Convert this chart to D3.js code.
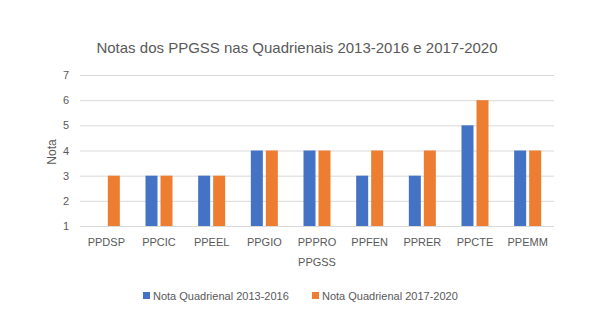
<!DOCTYPE html>
<html><head><meta charset="utf-8">
<script src="https://cdn.jsdelivr.net/npm/d3@7"></script>
<style>body{margin:0;background:#fff}text{font-family:"Liberation Sans",Arial,sans-serif;fill:#595959}</style>
</head><body><svg id="c" width="605" height="324"></svg>
<script>
const categories = ["PPDSP","PPCIC","PPEEL","PPGIO","PPPRO","PPFEN","PPRER","PPCTE","PPEMM"];
const series1 = [null,3,3,4,4,3,3,5,4];
const series2 = [3,3,3,4,4,4,4,6,4];
const seriesNames = ["Nota Quadrienal 2013-2016","Nota Quadrienal 2017-2020"];
const yTicks = [1,2,3,4,5,6,7];
const colors = ["#4472C4","#ED7D31"];

const svg = d3.select("#c");
const m = {l:80, r:554, t:75, b:226};
const x = d3.scaleBand().domain(categories).range([m.l, m.r]);
const y = d3.scaleLinear().domain([1,7]).range([m.b, m.t]);

svg.append("rect").attr("width",605).attr("height",324).attr("fill","#fff");

const yAxis = d3.axisLeft(y).tickValues(yTicks).tickFormat(d3.format("d")).tickSize(-(m.r-m.l)).tickPadding(11);
const ga = svg.append("g").attr("transform",`translate(${m.l},0)`).call(yAxis);
ga.select(".domain").remove();
ga.selectAll("line").attr("stroke","#d9d9d9").attr("stroke-width",1);
ga.selectAll("text").style("font-size","11px").style("fill","#595959");

const xAxis = d3.axisBottom(x).tickSize(0).tickPadding(12);
const gx = svg.append("g").attr("transform",`translate(0,${m.b})`).call(xAxis);
gx.select(".domain").remove();
gx.selectAll("text").style("font-size","11px").style("fill","#595959");

const bw = 12, gap = 3;
const data = [series1, series2];
data.forEach((s,si)=>{
  svg.append("g").selectAll("rect").data(categories.map((c,i)=>({c,v:s[i]})).filter(d=>d.v!=null))
    .join("rect")
    .attr("x", d => x(d.c)+x.bandwidth()/2 + (si===0 ? -(bw+gap/2) : gap/2))
    .attr("width", bw)
    .attr("y", d => y(d.v))
    .attr("height", d => y(1)-y(d.v))
    .attr("fill", colors[si]);
});

svg.append("text").attr("x",297).attr("y",53).attr("text-anchor","middle")
  .style("font-size","15px").text("Notas dos PPGSS nas Quadrienais 2013-2016 e 2017-2020");
svg.append("text").attr("x",317).attr("y",266).attr("text-anchor","middle")
  .style("font-size","11px").text("PPGSS");
svg.append("text").attr("transform","translate(56,152) rotate(-90)").attr("text-anchor","middle")
  .style("font-size","12px").text("Nota");

const legX = [143, 312];
seriesNames.forEach((n,i)=>{
  svg.append("rect").attr("x",legX[i]).attr("y",292).attr("width",7).attr("height",7).attr("fill",colors[i]);
  svg.append("text").attr("x",legX[i]+10).attr("y",300).style("font-size","11px").text(n);
});
</script></body></html>
